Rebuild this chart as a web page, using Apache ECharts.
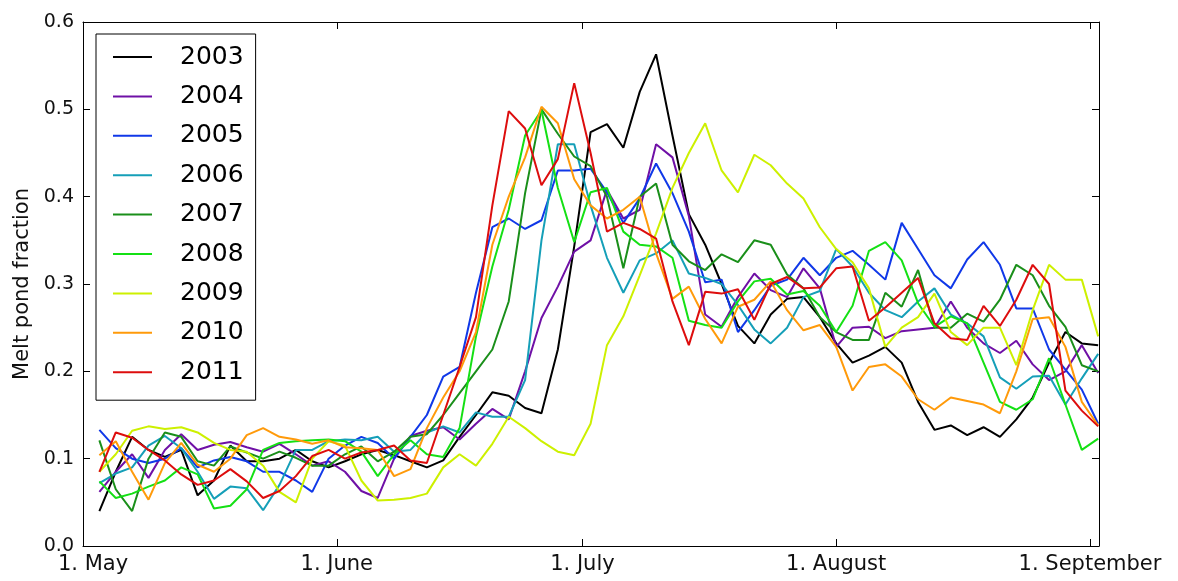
<!DOCTYPE html>
<html>
<head>
<meta charset="utf-8">
<script src="https://cdn.jsdelivr.net/npm/echarts@6/dist/echarts.min.js"></script>
<style>html,body{margin:0;padding:0;background:#fff}#c{width:1178px;height:581px}</style>
</head>
<body>
<div id="c"></div>
<script>
// days since 1 May
const days = [2,4,6,8,10,12,14,16,18,20,22,24,26,28,30,32,34,36,38,40,42,44,46,48,50,52,54,56,58,60,62,64,66,68,70,72,74,76,78,80,82,84,86,88,90,92,94,96,98,100,102,104,106,108,110,112,114,116,118,120,122,124];

const years = ['2003','2004','2005','2006','2007','2008','2009','2010','2011'];
const colors = ['#000000','#6f10a6','#1038e8','#159fb8','#1a8f1a','#14e014','#cdf000','#ff9a0a','#dd0d0d'];

const v2003 = [0.04,0.085,0.125,0.11,0.102,0.11,0.058,0.075,0.115,0.097,
  0.097,0.1,0.11,0.097,0.09,0.097,0.105,0.11,0.104,0.097,
  0.09,0.098,0.125,0.15,0.176,0.172,0.158,0.152,0.225,0.343,
  0.474,0.483,0.456,0.52,0.563,0.47,0.38,0.345,0.3,0.252,
  0.232,0.265,0.283,0.285,0.262,0.232,0.21,0.218,0.228,0.21,
  0.165,0.133,0.138,0.127,0.136,0.125,0.145,0.17,0.21,0.245,
  0.232,0.23];
const v2004 = [0.062,0.085,0.105,0.078,0.11,0.128,0.11,0.116,0.119,0.113,
  0.108,0.117,0.105,0.092,0.097,0.085,0.063,0.055,0.1,0.126,
  0.132,0.136,0.122,0.14,0.157,0.145,0.2,0.261,0.297,0.337,
  0.35,0.408,0.375,0.385,0.46,0.445,0.378,0.265,0.251,0.285,
  0.312,0.293,0.285,0.318,0.295,0.228,0.25,0.251,0.238,0.246,
  0.248,0.25,0.28,0.25,0.232,0.221,0.235,0.208,0.19,0.2,
  0.23,0.198];
const v2005 = [0.133,0.112,0.1,0.095,0.1,0.112,0.09,0.098,0.102,0.097,
  0.085,0.085,0.075,0.062,0.1,0.115,0.125,0.118,0.1,0.125,
  0.15,0.194,0.205,0.29,0.365,0.375,0.363,0.373,0.43,0.43,
  0.432,0.405,0.37,0.398,0.438,0.404,0.36,0.302,0.305,0.245,
  0.27,0.298,0.305,0.33,0.31,0.33,0.338,0.322,0.305,0.37,
  0.34,0.31,0.295,0.328,0.348,0.322,0.272,0.272,0.225,0.202,
  0.179,0.14];
const v2006 = [0.072,0.083,0.09,0.115,0.126,0.112,0.085,0.054,0.068,0.066,
  0.041,0.07,0.11,0.11,0.12,0.122,0.121,0.125,0.108,0.11,
  0.13,0.137,0.13,0.153,0.148,0.148,0.19,0.35,0.46,0.46,
  0.39,0.33,0.29,0.327,0.335,0.35,0.312,0.307,0.3,0.276,
  0.248,0.232,0.25,0.285,0.292,0.34,0.32,0.29,0.27,0.262,
  0.28,0.295,0.265,0.255,0.24,0.193,0.18,0.194,0.195,0.162,
  0.192,0.22];
const v2007 = [0.121,0.065,0.04,0.1,0.13,0.125,0.097,0.092,0.114,0.107,
  0.1,0.108,0.101,0.092,0.092,0.105,0.114,0.097,0.108,0.125,
  0.128,0.15,0.175,0.2,0.225,0.28,0.404,0.5,0.472,0.446,
  0.435,0.4,0.318,0.4,0.415,0.345,0.326,0.316,0.334,0.325,
  0.35,0.345,0.311,0.295,0.262,0.245,0.236,0.236,0.29,0.274,
  0.316,0.25,0.25,0.266,0.257,0.282,0.322,0.31,0.275,0.251,
  0.207,0.2];
const v2008 = [0.074,0.055,0.06,0.068,0.075,0.09,0.082,0.043,0.046,0.065,
  0.11,0.118,0.12,0.121,0.122,0.12,0.108,0.08,0.105,0.121,
  0.105,0.102,0.135,0.24,0.32,0.385,0.47,0.499,0.41,0.348,
  0.405,0.41,0.36,0.345,0.343,0.33,0.258,0.253,0.25,0.28,
  0.303,0.306,0.288,0.292,0.275,0.245,0.275,0.338,0.348,0.327,
  0.278,0.251,0.263,0.255,0.21,0.165,0.156,0.168,0.215,0.162,
  0.11,0.123];
const v2009 = [0.085,0.105,0.132,0.137,0.134,0.136,0.13,0.118,0.11,0.108,
  0.092,0.062,0.05,0.1,0.12,0.115,0.075,0.052,0.053,0.055,
  0.06,0.09,0.105,0.092,0.117,0.148,0.135,0.12,0.108,0.104,
  0.14,0.23,0.263,0.31,0.358,0.41,0.45,0.484,0.43,0.405,
  0.448,0.436,0.415,0.398,0.365,0.34,0.325,0.295,0.228,0.25,
  0.262,0.289,0.245,0.23,0.25,0.25,0.207,0.27,0.322,0.305,
  0.305,0.24];
const v2010 = [0.104,0.12,0.085,0.053,0.095,0.118,0.093,0.085,0.1,0.127,
  0.135,0.125,0.122,0.117,0.121,0.113,0.112,0.11,0.08,0.088,
  0.135,0.17,0.2,0.245,0.345,0.4,0.445,0.503,0.484,0.42,
  0.39,0.375,0.385,0.4,0.335,0.283,0.297,0.26,0.232,0.274,
  0.282,0.303,0.27,0.247,0.253,0.228,0.178,0.205,0.208,0.194,
  0.168,0.156,0.17,0.166,0.162,0.152,0.2,0.26,0.262,0.228,
  0.165,0.138];
const v2011 = [0.085,0.13,0.124,0.11,0.098,0.082,0.07,0.075,0.088,0.074,
  0.055,0.063,0.08,0.103,0.11,0.1,0.107,0.11,0.115,0.098,
  0.095,0.15,0.205,0.262,0.39,0.498,0.478,0.413,0.443,0.53,
  0.45,0.36,0.37,0.363,0.352,0.28,0.23,0.291,0.289,0.294,
  0.259,0.3,0.308,0.295,0.296,0.318,0.32,0.258,0.273,0.29,
  0.307,0.255,0.238,0.236,0.275,0.252,0.282,0.322,0.3,0.178,
  0.155,0.137];

const seriesValues = [v2003,v2004,v2005,v2006,v2007,v2008,v2009,v2010,v2011];

const monthTicks = [0,31,61,92,123];
const monthLabels = ['1. May','1. June','1. July','1. August','1. September'];

const xMax = 124.1;
const font = 'DejaVu Sans';
const txt = '#111';

const chart = echarts.init(document.getElementById('c'));

function monthLabel(v){
  const i = monthTicks.indexOf(Math.round(v));
  if (i < 0) return '';
  return i === 0 ? '{first|' + monthLabels[i] + '}' : monthLabels[i];
}

const baseX = {
  type:'value', min:0, max:xMax,
  splitLine:{show:false},
  axisLine:{show:true, onZero:false, lineStyle:{color:'#000', width:1}},
  axisTick:{show:true, inside:true, length:7, customValues:monthTicks, lineStyle:{color:'#000', width:1}}
};
const baseY = {
  type:'value', min:0, max:0.6, interval:0.1,
  splitLine:{show:false},
  axisLine:{show:true, onZero:false, lineStyle:{color:'#000', width:1}},
  axisTick:{show:true, inside:true, length:7, lineStyle:{color:'#000', width:1}}
};

const option = {
  animation:false,
  backgroundColor:'#fff',
  grid:{left:83, right:79, top:22, bottom:35, containLabel:false},
  xAxis:[
    Object.assign({}, baseX, {position:'bottom',
      axisLabel:{show:true, customValues:monthTicks, formatter:monthLabel, color:txt, fontFamily:font, fontSize:21, margin:8,
        alignMinLabel:'center', alignMaxLabel:'center',
        rich:{first:{color:txt, fontFamily:font, fontSize:21, padding:[0,0,0,20]}}}}),
    Object.assign({}, baseX, {position:'top', axisLabel:{show:false}})
  ],
  yAxis:[
    Object.assign({}, baseY, {position:'left',
      axisLabel:{show:true, formatter:v => v.toFixed(1), color:txt, fontFamily:font, fontSize:19, margin:9},
      name:'Melt pond fraction', nameLocation:'middle', nameGap:47,
      nameTextStyle:{color:txt, fontFamily:font, fontSize:21, padding:[0,0,0,0]}}),
    Object.assign({}, baseY, {position:'right', axisLabel:{show:false}})
  ],
  legend:{
    orient:'vertical', left:96, top:34,
    padding:[8,12,13,17], itemGap:9.4, itemWidth:39, itemHeight:2, icon:'rect',
    borderColor:'#000', borderWidth:1, borderRadius:0, backgroundColor:'#fff',
    textStyle:{fontSize:25, fontFamily:font, color:'#000', lineHeight:30, padding:[0,0,0,23]},
    data:years
  },
  series: years.map((y,i)=>({
    name:y, type:'line', xAxisIndex:0, yAxisIndex:0,
    data: days.map((d,j)=>[d, seriesValues[i][j]]),
    showSymbol:false, symbol:'none',
    lineStyle:{color:colors[i], width:2},
    itemStyle:{color:colors[i]},
    emphasis:{disabled:true},
    z:2+i
  }))
};
chart.setOption(option);
</script>
</body>
</html>
